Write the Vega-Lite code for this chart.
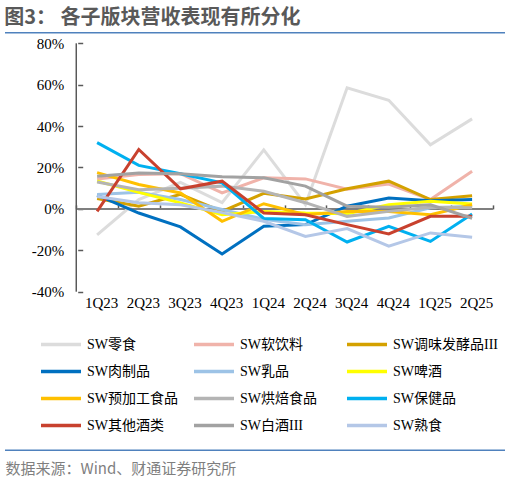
{
  "$schema": "https://vega.github.io/schema/vega-lite/v6.json",
  "width": 500,
  "height": 419,
  "autosize": {"type": "none"},
  "padding": {"left": 5, "top": 32, "right": 5, "bottom": 30},
  "config": {
    "view": {"stroke": null},
    "font": "Noto Sans CJK SC"
  },
  "title": {
    "text": "图3： 各子版块营收表现有所分化",
    "anchor": "start",
    "font": "Noto Sans CJK SC",
    "fontSize": 20,
    "fontWeight": "bold",
    "color": "#595959",
    "offset": 4
  },
  "layer": [
    {
      "data": {"values": [{}]},
      "mark": {"type": "rule", "color": "#4F81BD", "strokeWidth": 1.5},
      "encoding": {"y": {"datum": 85.1, "type": "quantitative"}}
    },
    {
      "data": {"values": [{}]},
      "mark": {"type": "rule", "color": "#4F81BD", "strokeWidth": 1.5},
      "encoding": {"y": {"datum": -116.6, "type": "quantitative"}}
    },
    {
      "data": {"values": [{}]},
      "mark": {"type": "rule", "color": "#7F7F7F", "strokeWidth": 2},
      "encoding": {
        "x": {"datum": "1Q23", "type": "ordinal", "bandPosition": 0},
        "x2": {"datum": "2Q25", "bandPosition": 1},
        "y": {"datum": 0, "type": "quantitative"}
      }
    },
    {
      "data": {"values": [{}]},
      "mark": {"type": "rule", "color": "#595959", "strokeWidth": 1.5},
      "encoding": {
        "x": {"datum": "1Q23", "type": "ordinal", "bandPosition": 0},
        "y": {"datum": -40, "type": "quantitative"},
        "y2": {"datum": 80}
      }
    },
    {
      "data": {
        "values": [
          {"q": "1Q23", "SW零食": -12.5, "SW软饮料": 14.5, "SW调味发酵品III": 5, "SW肉制品": 6.6, "SW乳品": 7, "SW啤酒": 13.5, "SW预加工食品": 17.5, "SW烘焙食品": 13, "SW保健品": 32, "SW其他酒类": -1.2, "SW白酒III": 15.8, "SW熟食": 6},
          {"q": "2Q23", "SW零食": 4.5, "SW软饮料": 16.6, "SW调味发酵品III": 1.3, "SW肉制品": -2, "SW乳品": 8, "SW啤酒": 8, "SW预加工食品": 11.8, "SW烘焙食品": 9.3, "SW保健品": 21, "SW其他酒类": 28.7, "SW白酒III": 17.4, "SW熟食": 3},
          {"q": "3Q23", "SW零食": 12.8, "SW软饮料": 17, "SW调味发酵品III": 7, "SW肉制品": -8.7, "SW乳品": 4.5, "SW啤酒": 2.9, "SW预加工食品": 7.7, "SW烘焙食品": 10, "SW保健品": 17, "SW其他酒类": 9.7, "SW白酒III": 17, "SW熟食": 2},
          {"q": "4Q23", "SW零食": 3, "SW软饮料": 7.7, "SW调味发酵品III": -1.2, "SW肉制品": -21.8, "SW乳品": -0.3, "SW啤酒": -2.8, "SW预加工食品": -6, "SW烘焙食品": 11, "SW保健品": 12.6, "SW其他酒类": 13.4, "SW白酒III": 15.5, "SW熟食": -1.8},
          {"q": "1Q24", "SW零食": 28.5, "SW软饮料": 15, "SW调味发酵品III": 7.5, "SW肉制品": -8.4, "SW乳品": -5, "SW啤酒": -1.2, "SW预加工食品": 2.5, "SW烘焙食品": 8.5, "SW保健品": -4.6, "SW其他酒类": -2, "SW白酒III": 15, "SW熟食": -6},
          {"q": "2Q24", "SW零食": 2, "SW软饮料": 14.5, "SW调味发酵品III": 4.8, "SW肉制品": -7.6, "SW乳品": -7.6, "SW啤酒": -2, "SW预加工食品": -2.8, "SW烘焙食品": 3, "SW保健品": -5.2, "SW其他酒类": -2.8, "SW白酒III": 11, "SW熟食": -13.3},
          {"q": "3Q24", "SW零食": 58.5, "SW软饮料": 9.5, "SW调味发酵品III": 9.7, "SW肉制品": 1.3, "SW乳品": -6, "SW啤酒": -2.3, "SW预加工食品": -1.3, "SW烘焙食品": -3.6, "SW保健品": -16, "SW其他酒类": -7.6, "SW白酒III": 1.3, "SW熟食": -9.5},
          {"q": "4Q24", "SW零食": 52.5, "SW软饮料": 12, "SW调味发酵品III": 13.4, "SW肉制品": 5.3, "SW乳品": -4.4, "SW啤酒": 2, "SW预加工食品": -1.2, "SW烘焙食品": -1.2, "SW保健品": -8.4, "SW其他酒类": -12.1, "SW白酒III": 0.8, "SW熟食": -18},
          {"q": "1Q25", "SW零食": 31, "SW软饮料": 4.5, "SW调味发酵品III": 4.5, "SW肉制品": 3.9, "SW乳品": 0.5, "SW啤酒": 3.7, "SW预加工食品": -2.8, "SW烘焙食品": 0.8, "SW保健品": -15.7, "SW其他酒类": -3.6, "SW白酒III": 2, "SW熟食": -11.6},
          {"q": "2Q25", "SW零食": 43.5, "SW软饮料": 18.2, "SW调味发酵品III": 6.4, "SW肉制品": 4.5, "SW乳品": 1.3, "SW啤酒": 2.4, "SW预加工食品": 2, "SW烘焙食品": 0.5, "SW保健品": -2.5, "SW其他酒类": -3.6, "SW白酒III": -4.5, "SW熟食": -13.7}
        ]
      },
      "transform": [
        {
          "fold": ["SW零食", "SW软饮料", "SW调味发酵品III", "SW肉制品", "SW乳品", "SW啤酒", "SW预加工食品", "SW烘焙食品", "SW保健品", "SW其他酒类", "SW白酒III", "SW熟食"],
          "as": ["series", "value"]
        }
      ],
      "mark": {"type": "line", "strokeWidth": 3, "interpolate": "linear"},
      "encoding": {
        "x": {
          "field": "q",
          "type": "ordinal",
          "bandPosition": 0.5,
          "scale": {
            "type": "band",
            "domain": ["1Q23", "2Q23", "3Q23", "4Q23", "1Q24", "2Q24", "3Q24", "4Q24", "1Q25", "2Q25"],
            "paddingInner": 0,
            "paddingOuter": 1.024,
            "align": 0.8553
          },
          "axis": {
            "orient": "bottom",
            "offset": -242.1,
            "title": "数据来源：Wind、财通证券研究所",
            "titleFont": "Noto Sans CJK SC",
            "titleFontSize": 15,
            "titleFontWeight": "normal",
            "titleColor": "#7F7F7F",
            "titleAlign": "left",
            "titleAnchor": "start",
            "titleBaseline": "middle",
            "titleX": 0,
            "titleY": 259.1,
            "labelAngle": 0,
            "labelFont": "Liberation Serif",
            "labelFontSize": 15,
            "labelColor": "#000000",
            "labelPadding": 97.6,
            "labelOffset": 20.75,
            "domain": false,
            "ticks": true,
            "tickBand": "extent",
            "tickSize": -4,
            "tickColor": "#595959",
            "tickWidth": 1.5,
            "grid": false
          }
        },
        "y": {
          "field": "value",
          "type": "quantitative",
          "scale": {"domain": [-116.96, 85.46], "nice": false, "zero": false},
          "axis": {
            "orient": "left",
            "offset": -72.7,
            "values": [-40, -20, 0, 20, 40, 60, 80],
            "labelExpr": "datum.value + '%'",
            "labelFont": "Liberation Serif",
            "labelFontSize": 15,
            "labelColor": "#000000",
            "labelPadding": 19,
            "domain": false,
            "tickColor": "#595959",
            "tickWidth": 1.5,
            "tickSize": -5,
            "grid": false,
            "title": null
          }
        },
        "color": {
          "field": "series",
          "type": "nominal",
          "scale": {
            "domain": ["SW零食", "SW软饮料", "SW调味发酵品III", "SW肉制品", "SW乳品", "SW啤酒", "SW预加工食品", "SW烘焙食品", "SW保健品", "SW其他酒类", "SW白酒III", "SW熟食"],
            "range": ["#DCDCDC", "#F0B3AA", "#D4A100", "#0070C0", "#9DC3E6", "#FFFF00", "#FFC000", "#B4B4B4", "#00B0F0", "#C8412E", "#A2A2A2", "#B4C7E7"]
          },
          "legend": {
            "title": null,
            "orient": "none",
            "direction": "horizontal",
            "legendX": 34,
            "legendY": 299,
            "offset": 0,
            "columns": 3,
            "gridAlign": "all",
            "padding": 0,
            "clipHeight": 27,
            "symbolType": "stroke",
            "symbolSize": 1600,
            "symbolStrokeWidth": 3.5,
            "labelFont": "Liberation Serif, Noto Sans CJK SC",
            "labelFontSize": 14,
            "labelColor": "#000000",
            "labelOffset": 4,
            "labelLimit": 200,
            "columnPadding": -3,
            "rowPadding": 0
          }
        }
      }
    }
  ]
}
